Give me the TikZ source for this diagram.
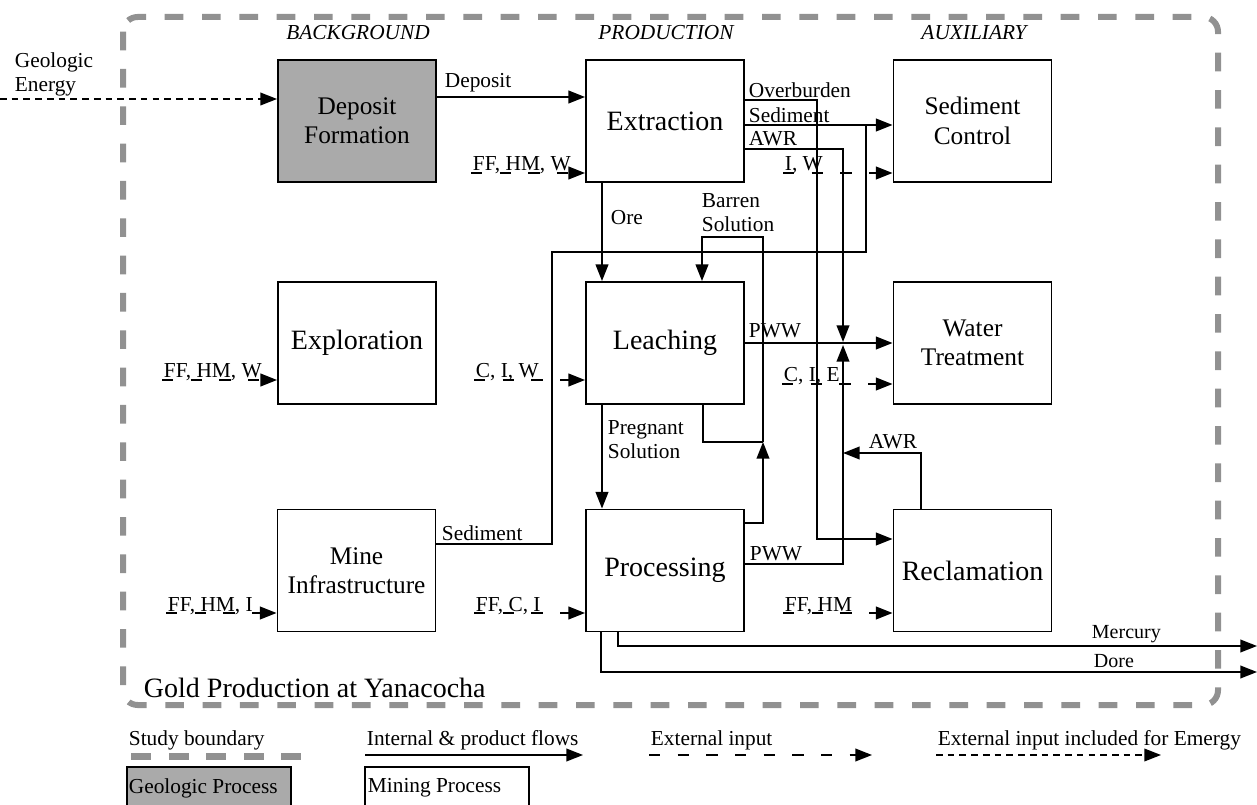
\documentclass[tikz,border=0pt]{standalone}
\usepackage{fontspec}
\setmainfont{Liberation Serif}
\usetikzlibrary{arrows.meta}

\definecolor{bndgray}{RGB}{145,145,145}
\definecolor{geofill}{RGB}{170,170,170}

\tikzset{every picture/.style={line width=1.4pt}}
\tikzset{
  proc/.style={draw, minimum width=118.5pt, minimum height=91.5pt, inner sep=0.75pt, align=center, font=\fontsize{21}{24}\selectfont},
  proctwo/.style={proc, font=\fontsize{19}{22}\selectfont},
  geoproc/.style={proctwo, fill=geofill},
  lab/.style={inner sep=0.75pt, align=left, font=\fontsize{16}{18}\selectfont},
  small/.style={inner sep=0.75pt, font=\fontsize{15}{17}\selectfont},
  head/.style={inner sep=0.75pt, font=\fontsize{16}{18}\selectfont\itshape},
  flow/.style={-{Triangle[length=12.5pt,width=9.5pt]}},
  ext/.style={dash pattern=on 8.5pt off 13pt, -{Triangle[length=12.5pt,width=9.5pt]}},
  emergy/.style={line width=1.1pt, dash pattern=on 5pt off 3.8pt, -{Triangle[length=12.5pt,width=9.5pt]}},
  bound/.style={draw=bndgray, line width=4.5pt, dash pattern=on 14pt off 14pt},
}

\begin{document}
\begin{tikzpicture}[x=0.75pt,y=0.75pt,yscale=-1,xscale=1]
\useasboundingbox (0,0) rectangle (1257,805);

%Study boundary
\draw[bound, rounded corners=11pt] (123,17) rectangle (1218,705);
\node[anchor=west, inner sep=0.75pt, font=\fontsize{21}{24}\selectfont] (title) at (142,688) {Gold Production at Yanacocha};

% Column heads
\node[head] (hBack) at (358,33) {BACKGROUND};
\node[head] (hProd) at (666,33) {PRODUCTION};
\node[head] (hAux) at (974,33) {AUXILIARY};

% Processes
\node[geoproc] (DepF) at (357,121) {Deposit\\Formation};
\node[proc] (Extr) at (665,121) {Extraction};
\node[proctwo] (SedC) at (972.5,121) {Sediment\\Control};
\node[proc] (Expl) at (357,343) {Exploration};
\node[proc] (Leach) at (665,343) {Leaching};
\node[proctwo] (WatT) at (972.5,343) {Water\\Treatment};
\node[proctwo] (MineI) at (356.5,570.5) {Mine\\Infrastructure};
\node[proc] (Proc) at (665,570.5) {Processing};
\node[proc] (Recl) at (972.5,570.5) {Reclamation};

% Geologic energy
\coordinate (geoIn) at (0,99);
\draw[emergy] (geoIn) -- (geoIn -| DepF.west);
\node[lab, anchor=west] (geoLab) at (13,74) {Geologic\\Energy};

% Internal flows
\draw[flow] (DepF.east |- 0,97) -- (Extr.west |- 0,97);
\draw[flow] (Extr.south -| 602,0) -- (Leach.north -| 602,0);
\draw[flow] (Extr.east |- 0,125) -- (SedC.west |- 0,125);
\draw[flow] (Extr.east |- 0,100) -| (817,539) -- (Recl.west |- 0,539);
\draw[flow] (Extr.east |- 0,149) -| (843,342);
\draw[flow] (Leach.east |- 0,343) -- (WatT.west |- 0,343);
\draw[flow] (Proc.east |- 0,564) -| (843,345);
\draw[flow] (Recl.north -| 921,0) |- (843,453);
\draw (MineI.east |- 0,544) -| (552,252) -| (866,125);
\draw[flow] (Leach.south -| 602,0) -- (Proc.north -| 602,0);
\draw[flow] (Proc.east |- 0,523) -| (763,442);
\draw (Leach.south -| 703,0) |- (763,442);
\draw[flow] (763,442) |- (702,237) -- (Leach.north -| 702,0);
\coordinate (mercOut) at (1257,646);
\coordinate (doreOut) at (1257,672);
\draw[flow] (Proc.south -| 618,0) |- (mercOut);
\draw[flow] (Proc.south -| 601,0) |- (doreOut);

% Flow labels
\node[lab, anchor=west] (lDep) at (443,83) {Deposit};
\node[lab, anchor=west] (lOvb) at (747,90) {Overburden};
\node[lab, anchor=west] (lSedE) at (747,115) {Sediment};
\node[lab, anchor=west] (lAwrE) at (747,139) {AWR};
\node[lab, anchor=west] (lOre) at (609,218) {Ore};
\node[lab, anchor=west] (lBarren) at (700,213) {Barren\\Solution};
\node[lab, anchor=west] (lPwwL) at (747,331) {PWW};
\node[lab, anchor=west] (lPreg) at (606,440) {Pregnant\\Solution};
\node[lab, anchor=west] (lAwrR) at (867,442) {AWR};
\node[lab, anchor=west] (lSedM) at (440,533) {Sediment};
\node[lab, anchor=west] (lPwwP) at (748,554) {PWW};
\node[small, anchor=west] (lMerc) at (1090,634) {Mercury};
\node[small, anchor=west] (lDore) at (1092,661) {Dore};

% External inputs
\node[lab, anchor=base west] (inExtr) at (471,171) {FF, HM, W};
\draw[ext] (inExtr.west |- 0,173) -- (Extr.west |- 0,173);
\node[lab, anchor=base west] (inSedC) at (783,171) {I, W};
\draw[ext] (inSedC.west |- 0,173) -- (SedC.west |- 0,173);
\node[lab, anchor=base west] (inExpl) at (162,378) {FF, HM, W};
\draw[ext] (inExpl.west |- 0,380) -- (Expl.west |- 0,380);
\node[lab, anchor=base west] (inLeach) at (474,378) {C, I, W};
\draw[ext] (inLeach.west |- 0,380) -- (Leach.west |- 0,380);
\node[lab, anchor=base west] (inWatT) at (782,382) {C, I, E};
\draw[ext] (inWatT.west |- 0,384) -- (WatT.west |- 0,384);
\node[lab, anchor=base west] (inMineI) at (166,611) {FF, HM, I};
\draw[ext] (inMineI.west |- 0,613) -- (MineI.west |- 0,613);
\node[lab, anchor=base west] (inProc) at (474,611) {FF, C, I};
\draw[ext] (inProc.west |- 0,613) -- (Proc.west |- 0,613);
\node[lab, anchor=base west] (inRecl) at (783,611) {FF, HM};
\draw[ext] (inRecl.west |- 0,613) -- (Recl.west |- 0,613);

% Legend
\node[lab, anchor=west] (lgBound) at (127,740) {Study boundary};
\foreach \i in {0,...,4}
  \fill[bndgray] (131+37.5*\i,753) rectangle ++(20,6.5);
\node[lab, anchor=west] (lgFlow) at (365,740) {Internal \& product flows};
\draw[flow] (lgFlow.west |- 0,755) -- (583,755);
\node[lab, anchor=west] (lgExt) at (649,740) {External input};
\draw[ext] (lgExt.west |- 0,755) -- (872,755);
\node[lab, anchor=west] (lgEm) at (936,740) {External input included for Emergy};
\draw[emergy] (lgEm.west |- 0,755) -- (1161,755);
\draw[fill=geofill] (127,767) rectangle (291,815);
\node[lab, anchor=west] (lgGeo) at (127,788) {Geologic Process};
\draw (365,767) rectangle (529,815);
\node[lab, anchor=west] (lgMine) at (366,788) {Mining Process};

\end{tikzpicture}
\end{document}
